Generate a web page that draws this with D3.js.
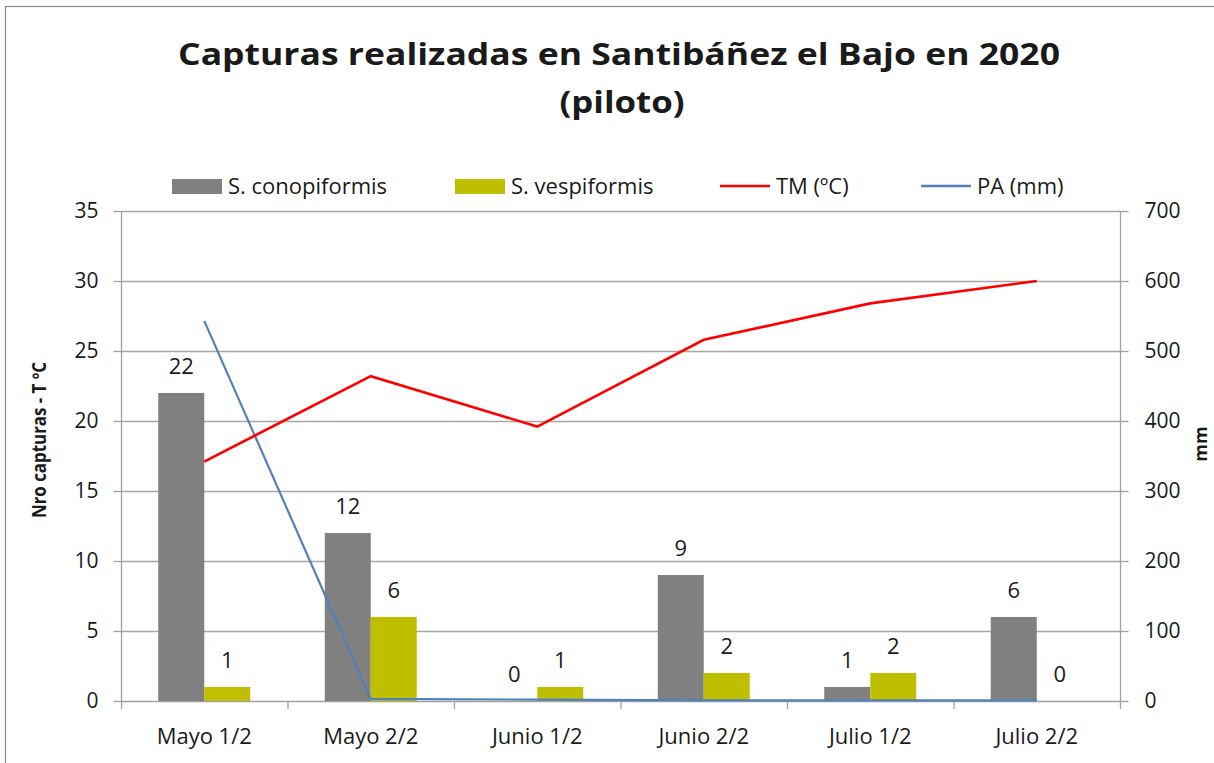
<!DOCTYPE html>
<html>
<head>
<meta charset="utf-8">
<script src="https://cdn.jsdelivr.net/npm/d3@7"></script>
<style>
  html, body { margin: 0; padding: 0; background: #fff; }
  svg { display: block; }
  text { font-family: "Open Sans", Lato, sans-serif; fill: #1a1a1a; }
</style>
</head>
<body>
<svg id="chart" width="1214" height="763"></svg>
<script>
const categories = ["Mayo 1/2", "Mayo 2/2", "Junio 1/2", "Junio 2/2", "Julio 1/2", "Julio 2/2"];
const conopiformis = [22, 12, 0, 9, 1, 6];
const vespiformis = [1, 6, 1, 2, 2, 0];
const tm = [17.1, 23.2, 19.6, 25.8, 28.4, 30.0];
const pa = [543, 3, 2, 1, 1, 1];
const leftTicks = [0, 5, 10, 15, 20, 25, 30, 35];
const rightTicks = [0, 100, 200, 300, 400, 500, 600, 700];
const seriesNames = ["S. conopiformis", "S. vespiformis", "TM (ºC)", "PA (mm)"];
const titleLines = ["Capturas realizadas en Santibáñez el Bajo en 2020", "(piloto)"];
const leftTitle = "Nro capturas - T ºC";
const rightTitle = "mm";

const colors = { cono: "#808080", vesp: "#bfbf00", tm: "#ff0000", pa: "#4f81bd", grid: "#a6a6a6", axis: "#a0a0a0" };

const svg = d3.select("#chart");
const plot = { left: 121, right: 1120, top: 211, bottom: 701 };

// outer chart border
svg.append("rect").attr("x", 5.5).attr("y", 6.5).attr("width", 1250).attr("height", 800)
  .attr("fill", "#fff").attr("stroke", "#8c8c8c").attr("stroke-width", 1.2);

// title
svg.append("text").attr("x", 619).attr("y", 65).attr("text-anchor", "middle")
  .attr("font-size", 31).attr("font-weight", "bold")
  .attr("textLength", 882).attr("lengthAdjust", "spacingAndGlyphs").text(titleLines[0]);
svg.append("text").attr("x", 622).attr("y", 113).attr("text-anchor", "middle")
  .attr("font-size", 31).attr("font-weight", "bold")
  .attr("textLength", 125).attr("lengthAdjust", "spacingAndGlyphs").text(titleLines[1]);

const x0 = d3.scaleBand().domain(categories).range([plot.left, plot.right]).paddingInner(0).paddingOuter(0);
const x1 = d3.scaleBand().domain(["cono", "vesp"]).range([0, x0.bandwidth()]).paddingInner(0).paddingOuter(0.81);
const yL = d3.scaleLinear().domain([0, 35]).range([plot.bottom, plot.top]);
const yR = d3.scaleLinear().domain([0, 700]).range([plot.bottom, plot.top]);

// gridlines
svg.append("g").selectAll("line").data(leftTicks.filter(d => d > 0)).join("line")
  .attr("x1", plot.left).attr("x2", plot.right)
  .attr("y1", d => yL(d) + 0.5).attr("y2", d => yL(d) + 0.5)
  .attr("stroke", colors.grid).attr("stroke-width", 1.3);

// left axis
const axL = svg.append("g").attr("transform", `translate(${plot.left + 0.5},0)`)
  .call(d3.axisLeft(yL).tickValues(leftTicks).tickSize(8).tickPadding(15));
axL.selectAll("path,line").attr("stroke", colors.axis).attr("stroke-width", 1.3);
axL.select(".domain").attr("d", `M0,${plot.top}V${plot.bottom}`);
axL.selectAll("text").attr("font-size", 21).attr("font-family", "'Open Sans', sans-serif").attr("fill", "#262626");

// right axis
const axR = svg.append("g").attr("transform", `translate(${plot.right + 0.5},0)`)
  .call(d3.axisRight(yR).tickValues(rightTicks).tickSize(8).tickPadding(16));
axR.selectAll("path,line").attr("stroke", colors.axis).attr("stroke-width", 1.3);
axR.select(".domain").attr("d", `M0,${plot.top}V${plot.bottom}`);
axR.selectAll("text").attr("font-size", 21).attr("font-family", "'Open Sans', sans-serif").attr("fill", "#262626");

// bottom axis
const tickPositions = categories.map(c => x0(c)).concat([plot.right]);
const axB = svg.append("g");
axB.append("line").attr("x1", plot.left).attr("x2", plot.right)
  .attr("y1", plot.bottom + 0.5).attr("y2", plot.bottom + 0.5)
  .attr("stroke", colors.axis).attr("stroke-width", 1.3);
axB.selectAll("line.tk").data(tickPositions).join("line").attr("class", "tk")
  .attr("x1", d => d + 0.5).attr("x2", d => d + 0.5)
  .attr("y1", plot.bottom).attr("y2", plot.bottom + 8)
  .attr("stroke", colors.axis).attr("stroke-width", 1.3);
axB.selectAll("text").data(categories).join("text")
  .attr("x", d => x0(d) + x0.bandwidth() / 2).attr("y", 744)
  .attr("text-anchor", "middle").attr("font-size", 22).attr("fill", "#262626").text(d => d);

// bars
const barData = [];
categories.forEach((c, i) => {
  barData.push({ c, key: "cono", v: conopiformis[i] });
  barData.push({ c, key: "vesp", v: vespiformis[i] });
});
svg.append("g").selectAll("rect").data(barData).join("rect")
  .attr("x", d => x0(d.c) + x1(d.key))
  .attr("width", x1.bandwidth())
  .attr("y", d => yL(d.v))
  .attr("height", d => yL(0) - yL(d.v))
  .attr("fill", d => colors[d.key]);

// lines
const cx = c => x0(c) + x0.bandwidth() / 2;
const lineTM = d3.line().x((d, i) => cx(categories[i])).y(d => yL(d));
const linePA = d3.line().x((d, i) => cx(categories[i])).y(d => yR(d));
svg.append("path").datum(pa).attr("d", linePA).attr("fill", "none")
  .attr("stroke", colors.pa).attr("stroke-width", 2.2);
svg.append("path").datum(tm).attr("d", lineTM).attr("fill", "none")
  .attr("stroke", colors.tm).attr("stroke-width", 2.6);

// data labels
svg.append("g").selectAll("text").data(barData).join("text")
  .attr("x", d => x0(d.c) + x1(d.key) + x1.bandwidth() / 2)
  .attr("y", d => yL(d.v) - 19)
  .attr("text-anchor", "middle").attr("font-size", 22).attr("fill", "#1a1a1a")
  .text(d => d.v);

// axis titles
svg.append("text").attr("transform", `translate(46,440) rotate(-90)`)
  .attr("text-anchor", "middle").attr("font-size", 19).attr("font-weight", "bold")
  .attr("textLength", 156).attr("lengthAdjust", "spacingAndGlyphs").text(leftTitle);
svg.append("text").attr("transform", `translate(1207,444) rotate(-90)`)
  .attr("text-anchor", "middle").attr("font-size", 18).attr("font-weight", "bold").text(rightTitle);

// legend
const lg = svg.append("g");
const legendItems = [
  { name: seriesNames[0], type: "rect", color: colors.cono, x: 172 },
  { name: seriesNames[1], type: "rect", color: colors.vesp, x: 455 },
  { name: seriesNames[2], type: "line", color: colors.tm, x: 720 },
  { name: seriesNames[3], type: "line", color: colors.pa, x: 921 }
];
legendItems.forEach(it => {
  if (it.type === "rect") {
    lg.append("rect").attr("x", it.x).attr("y", 179).attr("width", 50).attr("height", 15).attr("fill", it.color);
    lg.append("text").attr("x", it.x + 56).attr("y", 194).attr("font-size", 22).attr("fill", "#1a1a1a").text(it.name);
  } else {
    lg.append("line").attr("x1", it.x).attr("x2", it.x + 50).attr("y1", 186).attr("y2", 186)
      .attr("stroke", it.color).attr("stroke-width", 2.6);
    lg.append("text").attr("x", it.x + 56).attr("y", 194).attr("font-size", 22).attr("fill", "#1a1a1a").text(it.name);
  }
});
</script>
</body>
</html>
